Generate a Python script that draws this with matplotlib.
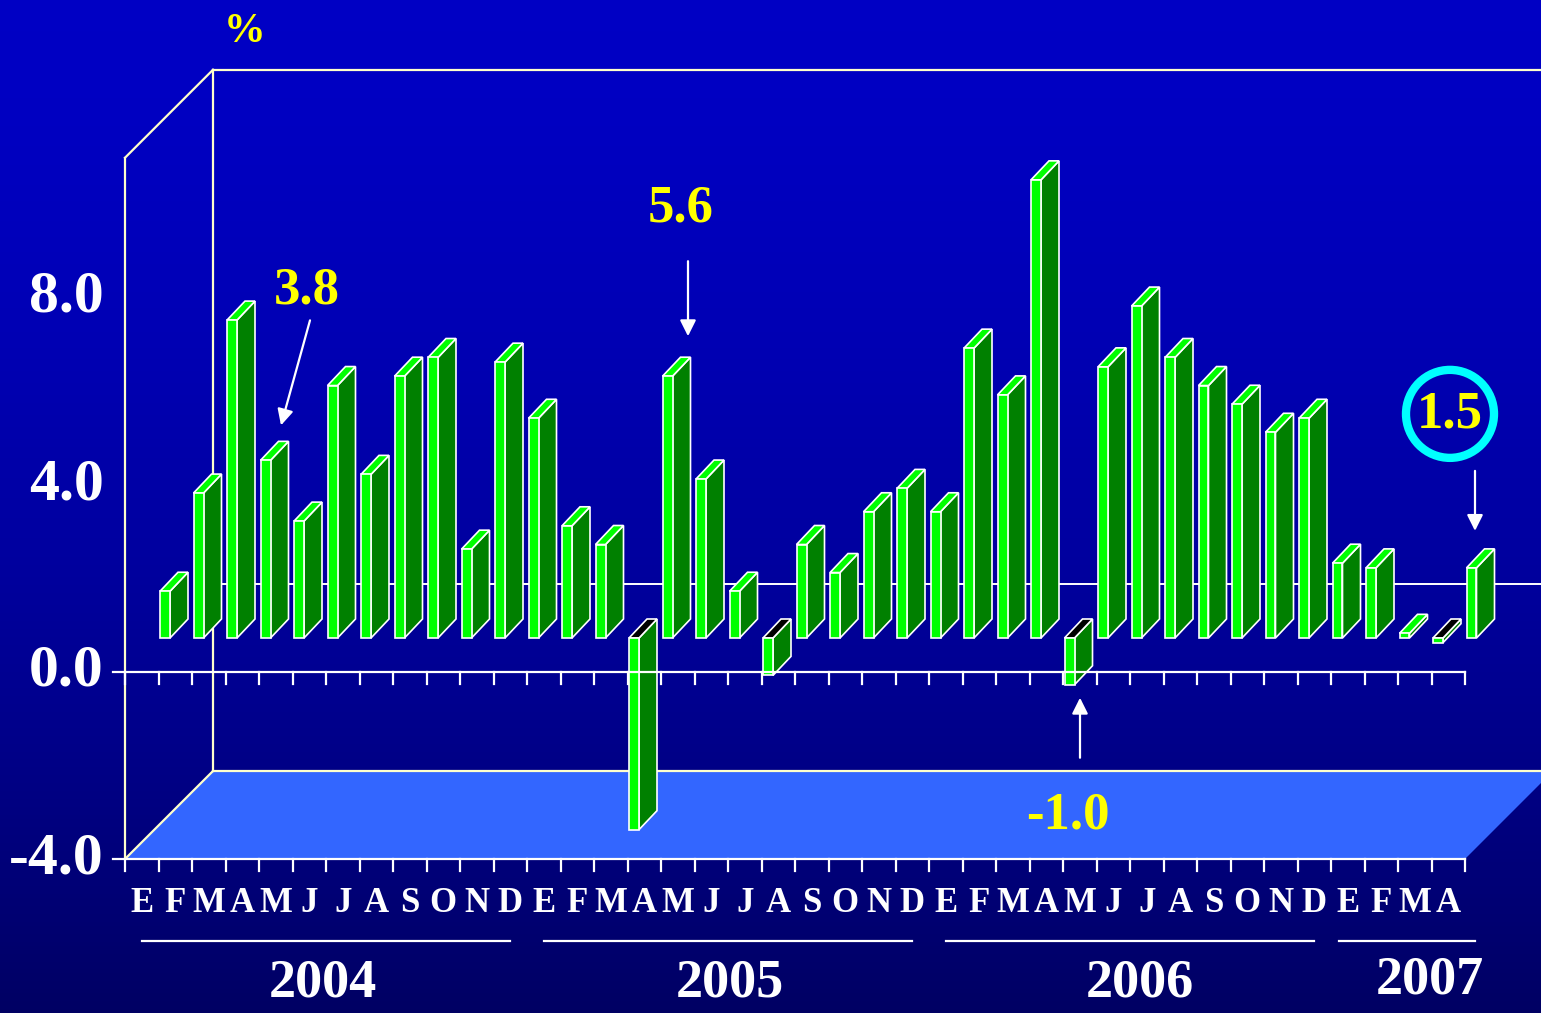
import matplotlib.pyplot as plt
import numpy as np
from matplotlib.patches import Polygon, Ellipse

# ---------------------------------------------------------------
# data
# ---------------------------------------------------------------
months = ["E", "F", "M", "A", "M", "J", "J", "A", "S", "O", "N", "D"] * 3 + ["E", "F", "M", "A"]
growth = [1.0, 3.1, 6.8, 3.8, 2.5, 5.4, 3.5, 5.6, 6.0, 1.9, 5.9, 4.7,
          2.4, 2.0, -4.1, 5.6, 3.4, 1.0, -0.8, 2.0, 1.4, 2.7, 3.2, 2.7,
          6.2, 5.2, 9.8, -1.0, 5.8, 7.1, 6.0, 5.4, 5.0, 4.4, 4.7, 1.6,
          1.5, 0.1, -0.1, 1.5]
years = ["2004", "2005", "2006", "2007"]
year_len = [12, 12, 12, 4]
yticks = [-4.0, 0.0, 4.0, 8.0]
y_min, y_max = -4.0, 11.0

# ---------------------------------------------------------------
# canvas geometry (pixels of the 1541 x 1013 picture)
# ---------------------------------------------------------------
W, H = 1541, 1013
X0, Y0 = 125, 672        # front axis origin
XU, YU = 33.5, 46.75     # px per category, px per unit
DX, DY = 88 / XU, 88 / YU          # full depth of the box
BX0, BY0 = 35 / XU, 34 / YU        # bar front face offset
BW = 10 / XU                       # bar front width
BDX, BDY = 18 / XU, 19 / YU        # bar depth


def pt(px, py):
    return (px - X0) / XU, (Y0 - py) / YU


n = len(growth)
serif = "Liberation Serif"
cream = "#FFFFCC"

fig = plt.figure(figsize=(W / 100, H / 100), dpi=100)
ax = fig.add_axes([0, 0, 1, 1])
xmin, ymax_ax = pt(0, 0)
xmax, ymin_ax = pt(W, H)
ax.set_xlim(xmin, xmax)
ax.set_ylim(ymin_ax, ymax_ax)
ax.axis("off")

# background gradient: bright blue on top, navy at the bottom
t = np.linspace(0, 1, 256)
grad = np.zeros((256, 1, 3))
grad[:, 0, 2] = 0.77 - 0.38 * t ** 1.6
ax.imshow(grad, extent=[xmin, xmax, ymin_ax, ymax_ax], aspect="auto", origin="upper", zorder=0)

# floor
floor = Polygon([(0, y_min), (n, y_min), (n + DX, y_min + DY), (DX, y_min + DY)],
                closed=True, fc="#3366FF", ec="none", zorder=1)
ax.add_patch(floor)

lw_wall = 1.6
ax.plot([0, DX], [y_min, y_min + DY], color=cream, lw=lw_wall, zorder=2)
ax.plot([DX, xmax], [y_min + DY, y_min + DY], color=cream, lw=lw_wall, zorder=2)
ax.plot([0, 0], [y_min, y_max], color=cream, lw=lw_wall, zorder=2)
ax.plot([0, DX], [y_max, y_max + DY], color=cream, lw=lw_wall, zorder=2)
ax.plot([DX, DX], [y_min + DY, y_max + DY], color=cream, lw=lw_wall, zorder=2)
ax.plot([DX, xmax], [y_max + DY, y_max + DY], color=cream, lw=lw_wall, zorder=2)
ax.plot([DX, xmax], [DY, DY], color="white", lw=1.4, zorder=2)

# bars
for k, v in enumerate(growth):
    x0 = k + BX0
    x1 = x0 + BW
    yb = BY0
    yt = BY0 + v
    front = [(x0, yb), (x1, yb), (x1, yt), (x0, yt)]
    side = [(x1, yb), (x1 + BDX, yb + BDY), (x1 + BDX, yt + BDY), (x1, yt)]
    ytop = max(yb, yt)
    top = [(x0, ytop), (x1, ytop), (x1 + BDX, ytop + BDY), (x0 + BDX, ytop + BDY)]
    top_col = "#00FF00" if v >= 0 else "black"
    ax.add_patch(Polygon(side, closed=True, fc="#008000", ec="white", lw=1.2, zorder=3))
    ax.add_patch(Polygon(top, closed=True, fc=top_col, ec="white", lw=1.2, zorder=3))
    ax.add_patch(Polygon(front, closed=True, fc="#00FF00", ec="white", lw=1.2, zorder=3))

# front axes with tick marks
tick_len = 12 / YU
for yy in (0.0, y_min):
    ax.plot([-12 / XU, n], [yy, yy], color="white", lw=1.6, zorder=4)
    for k in range(n + 1):
        ax.plot([k, k], [yy, yy - tick_len], color="white", lw=1.6, zorder=4)

# y tick labels
for yv in yticks:
    ax.text(pt(104, 0)[0], yv, f"{yv:.1f}", ha="right", va="center",
            fontsize=43, fontweight="bold", family=serif, color="white", zorder=5)
ax.text(*pt(245, 32), "%", ha="center", va="center", fontsize=30,
        fontweight="bold", family=serif, color="yellow")

# month letters
ym = pt(0, 903)[1]
for k, m in enumerate(months):
    ax.text(k + 0.5, ym, m, ha="center", va="center", fontsize=25,
            fontweight="bold", family=serif, color="white")

# year rules and labels
year_x = [5.9, 18.05, 30.3, 38.95]
year_y = [983, 983, 983, 980]
rule_y = pt(0, 941)[1]
start = 0
for i, (yr, ln) in enumerate(zip(years, year_len)):
    a = start + 0.5
    b = start + ln - 0.5
    if ln < 12:
        a -= 0.25
        b += 0.8
    ax.plot([a, b], [rule_y, rule_y], color="white", lw=1.6)
    ax.text(year_x[i], pt(0, year_y[i])[1], yr, ha="center", va="center",
            fontsize=39, fontweight="bold", family=serif, color="white")
    start += ln


# callouts tied to bars: (bar, tip offset px, tail offset px, text offset px)
def bp(k, dxp, dyp):
    return k + BX0 + dxp / XU, BY0 + growth[k] + dyp / YU


callouts = [(3, (20.5, 35), (49.5, 140), (46.5, 170)),
            (15, (25.5, 40), (25.5, 115), (18.5, 168)),
            (27, (15.5, -13), (15.5, -73), (3.5, -131)),
            (39, (8.5, 37), (8.5, 97), (-16.5, 153))]
for k, tip, tail, txt in callouts:
    ax.annotate("", xy=bp(k, *tip), xytext=bp(k, *tail),
                arrowprops=dict(arrowstyle="-|>", color="white", lw=1.6,
                                mutation_scale=24, shrinkA=0, shrinkB=0), zorder=6)
    ax.text(*bp(k, *txt), f"{growth[k]:.1f}", ha="center", va="center",
            fontsize=38, fontweight="bold", family=serif, color="yellow", zorder=6)

cx, cy = bp(39, -16.5, 154)
ax.add_patch(Ellipse((cx, cy), 88 / XU, 88 / YU, fill=False, ec="#00FFFF", lw=6, zorder=6))

fig.savefig("out.png", dpi=100)
